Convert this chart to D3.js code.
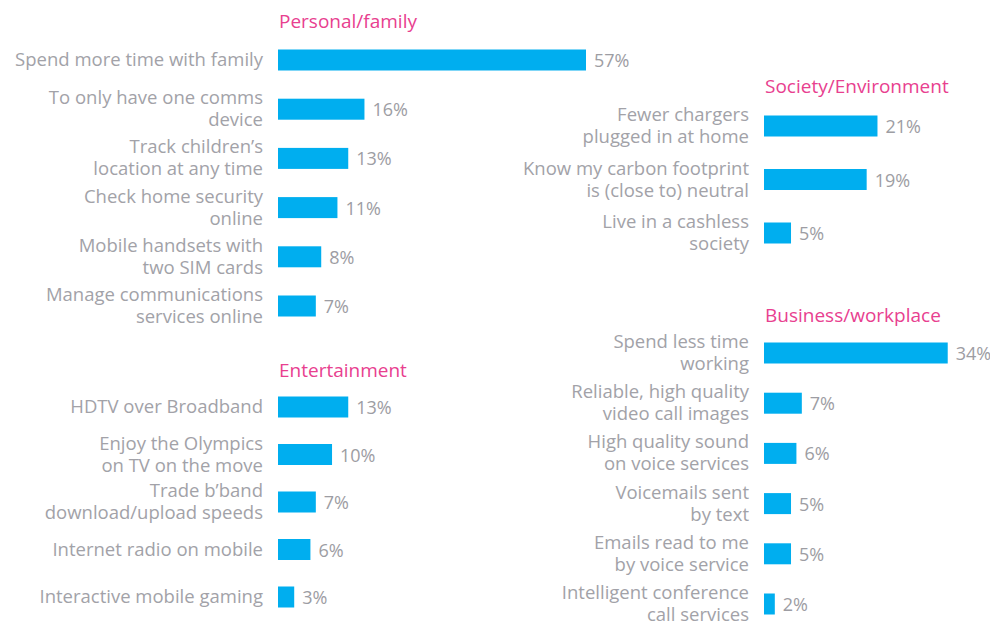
<!DOCTYPE html>
<html><head><meta charset="utf-8">
<script src="https://cdn.jsdelivr.net/npm/d3@7"></script>
<style>body{margin:0;background:#fff}svg{display:block}</style>
</head><body><svg id="c" width="990" height="628"></svg>
<script>
const personalLabels = ["Spend more time with family","To only have one comms\ndevice","Track children’s\nlocation at any time","Check home security\nonline","Mobile handsets with\ntwo SIM cards","Manage communications\nservices online"];
const personalValues = [57,16,13,11,8,7];
const entertainmentLabels = ["HDTV over Broadband","Enjoy the Olympics\non TV on the move","Trade b’band\ndownload/upload speeds","Internet radio on mobile","Interactive mobile gaming"];
const entertainmentValues = [13,10,7,6,3];
const societyLabels = ["Fewer chargers\nplugged in at home","Know my carbon footprint\nis (close to) neutral","Live in a cashless\nsociety"];
const societyValues = [21,19,5];
const businessLabels = ["Spend less time\nworking","Reliable, high quality\nvideo call images","High quality sound\non voice services","Voicemails sent\nby text","Emails read to me\nby voice service","Intelligent conference\ncall services"];
const businessValues = [34,7,6,5,5,2];
const groupTitles = ["Personal/family","Entertainment","Society/Environment","Business/workplace"];

const svg = d3.select("#c");
const FONT = "'Open Sans', sans-serif";
const x = d3.scaleLinear().domain([0, 57]).range([0, 308]);

const groups = [
  {title: groupTitles[0], labels: personalLabels, values: personalValues, x0: 278, titleY: 28, y: [60, 306]},
  {title: groupTitles[1], labels: entertainmentLabels, values: entertainmentValues, x0: 278, titleY: 377, y: [407, 597]},
  {title: groupTitles[2], labels: societyLabels, values: societyValues, x0: 764, titleY: 93, y: [126, 233]},
  {title: groupTitles[3], labels: businessLabels, values: businessValues, x0: 764, titleY: 322, y: [353, 604]}
];

const barH = 21, lineH = 22;
groups.forEach(g => {
  const y = d3.scalePoint().domain(d3.range(g.values.length)).range(g.y);
  const G = svg.append("g");
  G.append("text").attr("x", g.x0 + 1).attr("y", g.titleY)
    .attr("font-family", FONT).attr("font-size", 19).attr("fill", "#e8408f").text(g.title);
  g.values.forEach((v, i) => {
    const cy = y(i);
    G.append("rect").attr("x", g.x0).attr("y", cy - barH/2).attr("width", x(v)).attr("height", barH).attr("fill", "#00aeef");
    G.append("text").attr("x", g.x0 + x(v) + 8).attr("y", cy + 7)
      .attr("font-family", FONT).attr("font-size", 18).attr("fill", "#9d9da3").text(v + "%");
    const lines = g.labels[i].split("\n");
    const t = G.append("text").attr("text-anchor", "end")
      .attr("font-family", FONT).attr("font-size", 18.5).attr("fill", "#a2a2a8");
    const startY = cy - (lines.length - 1) * lineH / 2 + 6;
    lines.forEach((l, j) => t.append("tspan").attr("x", g.x0 - 15).attr("y", startY + j * lineH).text(l));
  });
});
</script></body></html>
